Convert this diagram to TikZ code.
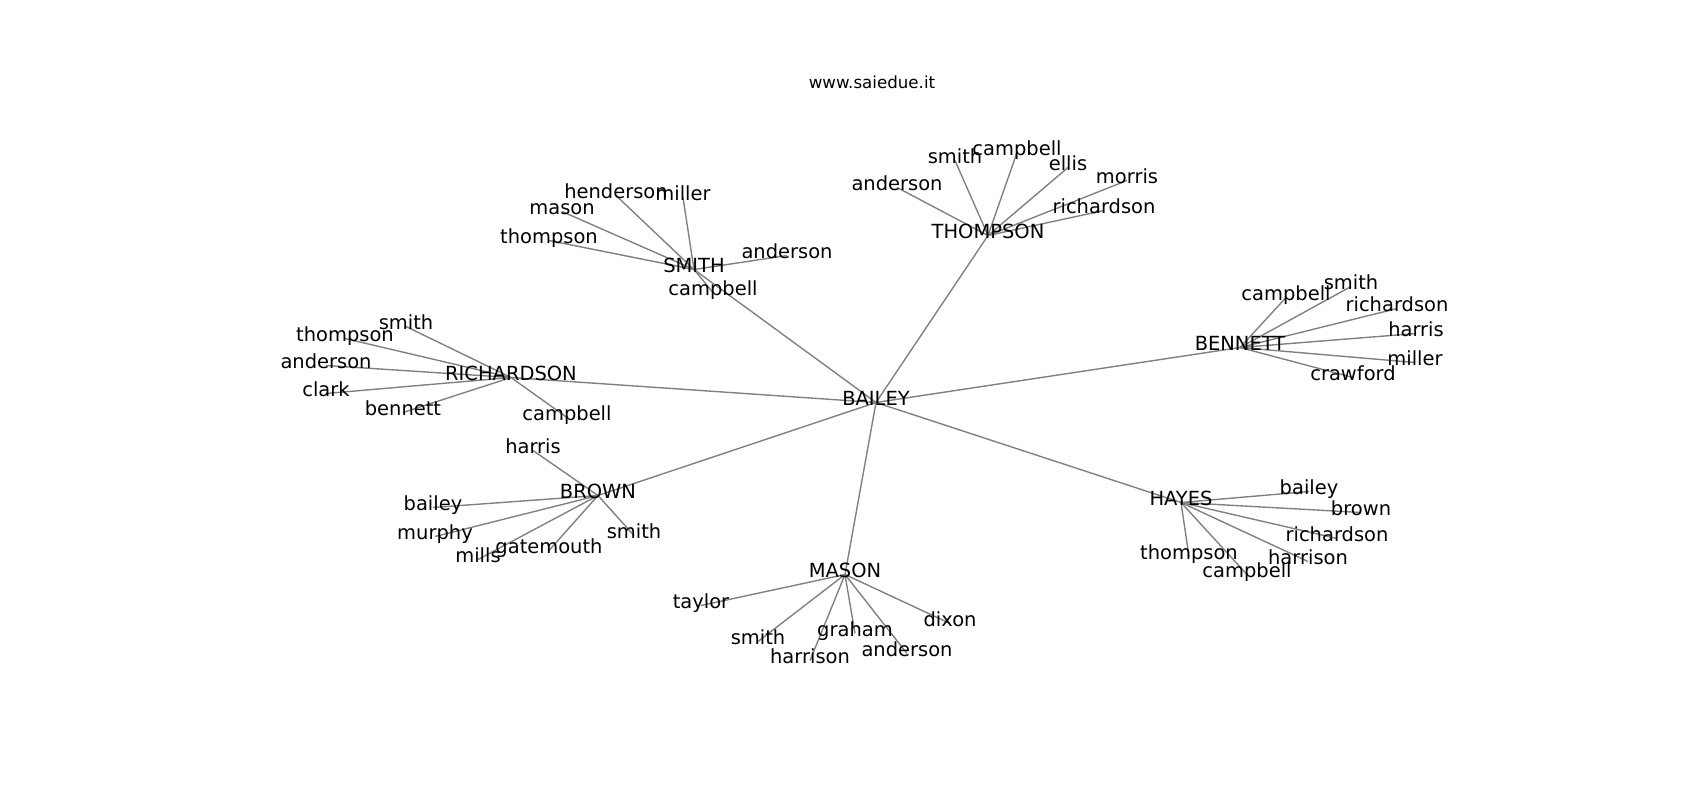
\documentclass[tikz,border=0pt]{standalone}
\usepackage{fontspec}
\setmainfont{DejaVu Sans}
\usetikzlibrary{backgrounds}
\tikzset{every picture/.style={line width=0.5pt}}
\tikzset{
  surname/.style={inner sep=0pt, text height=0.76em, text depth=0.24em, font=\fontsize{14.6}{17}\selectfont},
  sitetitle/.style={inner sep=0pt, text height=0.76em, text depth=0.24em, font=\fontsize{12.5}{15}\selectfont},
  link/.style={draw={rgb,255:red,128;green,128;blue,128}, line width=1.04pt}
}
\begin{document}
\begin{tikzpicture}[x=0.75pt,y=0.75pt,yscale=-1]
        \useasboundingbox (0,-3.5) rectangle (1700,796.5);
        %Title
        \node[sitetitle] (site) at (872,82) {www.saiedue.it};
        %Hubs
        \node[surname] (bailey) at (876,399) {BAILEY};
        \node[surname] (smith) at (694,266) {SMITH};
        \node[surname] (thompson) at (988,232) {THOMPSON};
        \node[surname] (richardson) at (511,374) {RICHARDSON};
        \node[surname] (bennett) at (1240,344) {BENNETT};
        \node[surname] (brown) at (598,492) {BROWN};
        \node[surname] (mason) at (845,571) {MASON};
        \node[surname] (hayes) at (1181,499) {HAYES};
        %Leaves of SMITH
        \node[surname] (sm-henderson) at (616,192) {henderson};
        \node[surname] (sm-miller) at (683,194) {miller};
        \node[surname] (sm-mason) at (562,208) {mason};
        \node[surname] (sm-thompson) at (549,237) {thompson};
        \node[surname] (sm-anderson) at (787,252) {anderson};
        \node[surname] (sm-campbell) at (713,289) {campbell};
        %Leaves of THOMPSON
        \node[surname] (th-anderson) at (897,184) {anderson};
        \node[surname] (th-smith) at (955,157) {smith};
        \node[surname] (th-campbell) at (1017,149) {campbell};
        \node[surname] (th-ellis) at (1068,164) {ellis};
        \node[surname] (th-morris) at (1127,177) {morris};
        \node[surname] (th-richardson) at (1104,207) {richardson};
        %Leaves of RICHARDSON
        \node[surname] (ri-smith) at (406,323) {smith};
        \node[surname] (ri-thompson) at (345,335) {thompson};
        \node[surname] (ri-anderson) at (326,362) {anderson};
        \node[surname] (ri-clark) at (326,390) {clark};
        \node[surname] (ri-bennett) at (403,409) {bennett};
        \node[surname] (ri-campbell) at (567,414) {campbell};
        %Leaves of BENNETT
        \node[surname] (be-campbell) at (1286,294) {campbell};
        \node[surname] (be-smith) at (1351,283) {smith};
        \node[surname] (be-richardson) at (1397,305) {richardson};
        \node[surname] (be-harris) at (1416,330) {harris};
        \node[surname] (be-miller) at (1415,359) {miller};
        \node[surname] (be-crawford) at (1353,374) {crawford};
        %Leaves of BROWN
        \node[surname] (br-harris) at (533,447) {harris};
        \node[surname] (br-bailey) at (433,504) {bailey};
        \node[surname] (br-murphy) at (435,533) {murphy};
        \node[surname] (br-mills) at (478,556) {mills};
        \node[surname] (br-gatemouth) at (549,547) {gatemouth};
        \node[surname] (br-smith) at (634,532) {smith};
        %Leaves of MASON
        \node[surname] (ma-taylor) at (701,602) {taylor};
        \node[surname] (ma-smith) at (758,638) {smith};
        \node[surname] (ma-harrison) at (810,657) {harrison};
        \node[surname] (ma-graham) at (855,630) {graham};
        \node[surname] (ma-anderson) at (907,650) {anderson};
        \node[surname] (ma-dixon) at (950,620) {dixon};
        %Leaves of HAYES
        \node[surname] (ha-bailey) at (1309,488) {bailey};
        \node[surname] (ha-brown) at (1361,509) {brown};
        \node[surname] (ha-richardson) at (1337,535) {richardson};
        \node[surname] (ha-harrison) at (1308,558) {harrison};
        \node[surname] (ha-thompson) at (1189,553) {thompson};
        \node[surname] (ha-campbell) at (1247,571) {campbell};
        %Edges
        \begin{scope}[on background layer]
        \foreach \hub in {smith,thompson,richardson,bennett,brown,mason,hayes}
          \draw[link] (bailey.center) -- (\hub.center);
        \foreach \hub/\leaf in {smith/sm-henderson,smith/sm-miller,smith/sm-mason,smith/sm-thompson,smith/sm-anderson,smith/sm-campbell,
          thompson/th-anderson,thompson/th-smith,thompson/th-campbell,thompson/th-ellis,thompson/th-morris,thompson/th-richardson,
          richardson/ri-smith,richardson/ri-thompson,richardson/ri-anderson,richardson/ri-clark,richardson/ri-bennett,richardson/ri-campbell,
          bennett/be-campbell,bennett/be-smith,bennett/be-richardson,bennett/be-harris,bennett/be-miller,bennett/be-crawford,
          brown/br-harris,brown/br-bailey,brown/br-murphy,brown/br-mills,brown/br-gatemouth,brown/br-smith,
          mason/ma-taylor,mason/ma-smith,mason/ma-harrison,mason/ma-graham,mason/ma-anderson,mason/ma-dixon,
          hayes/ha-bailey,hayes/ha-brown,hayes/ha-richardson,hayes/ha-harrison,hayes/ha-thompson,hayes/ha-campbell}
          \draw[link] (\hub.center) -- (\leaf.center);
        \end{scope}
\end{tikzpicture}
\end{document}
